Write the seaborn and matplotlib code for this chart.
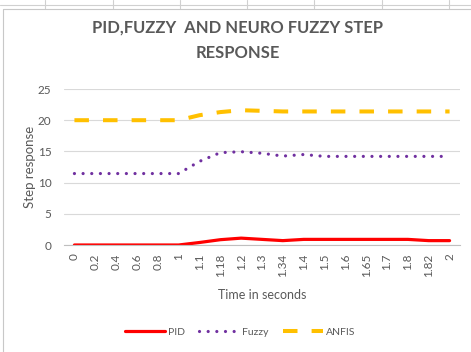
import matplotlib
matplotlib.use("Agg")
import matplotlib.pyplot as plt
import seaborn as sns
import pandas as pd
from matplotlib.lines import Line2D

time_labels = ["0", "0.2", "0.4", "0.6", "0.8", "1", "1.1", "1.18", "1.2", "1.3",
               "1.34", "1.4", "1.5", "1.6", "1.65", "1.7", "1.8", "1.82", "2"]
pid = [0, 0, 0, 0, 0, 0, 0.4, 0.85, 1.1, 0.9, 0.7, 0.9, 0.9, 0.9, 0.9, 0.9, 0.9, 0.7, 0.7]
fuzzy = [11.45, 11.45, 11.45, 11.45, 11.45, 11.45, 13.4, 14.8, 14.95, 14.7, 14.25, 14.5,
         14.2, 14.2, 14.2, 14.2, 14.2, 14.2, 14.2]
anfis = [20, 20, 20, 20, 20, 20, 20.8, 21.3, 21.6, 21.5, 21.4, 21.4, 21.4, 21.4, 21.4,
         21.4, 21.4, 21.4, 21.4]
series_names = ["PID", "Fuzzy", "ANFIS"]
y_ticks = [0, 5, 10, 15, 20, 25]
title_lines = ["PID,FUZZY  AND NEURO FUZZY STEP", "RESPONSE"]

sns.set_theme(style="white")
plt.rcParams["font.family"] = ["Lato", "DejaVu Sans"]

grey = "#595959"
fig = plt.figure(figsize=(4.71, 3.52), dpi=100)
fig.patch.set_facecolor("white")

# Excel sheet background lines above the chart
for xp in [45, 113, 180, 247, 314, 382, 449]:
    fig.add_artist(Line2D([xp / 471, xp / 471], [1, 1 - 9 / 352], color="#D0D0D0", lw=0.8))
fig.add_artist(Line2D([0, 1], [1 - 5 / 352, 1 - 5 / 352], color="#D0D0D0", lw=0.8))
# chart border
fig.add_artist(Line2D([3 / 471, 3 / 471], [0, 1 - 9 / 352], color="#C8C8C8", lw=0.8))
fig.add_artist(Line2D([3 / 471, 1], [1 - 9 / 352, 1 - 9 / 352], color="#C8C8C8", lw=0.8))

ax = fig.add_axes([64 / 471, 1 - 245 / 352, (460 - 64) / 471, (245 - 89) / 352])

df = pd.DataFrame({"Time": time_labels, "PID": pid, "Fuzzy": fuzzy, "ANFIS": anfis})

sns.lineplot(data=df, x="Time", y="PID", ax=ax, color="#FF0000", lw=2.3,
             solid_capstyle="round", label="PID", sort=False)
sns.lineplot(data=df, x="Time", y="Fuzzy", ax=ax, color="#7030A0", lw=2.3,
             dashes=(0.01, 2.7), dash_capstyle="round", label="Fuzzy", sort=False)
sns.lineplot(data=df, x="Time", y="ANFIS", ax=ax, color="#FFC000", lw=2.9,
             dashes=(3.6, 3.5), dash_capstyle="butt", label="ANFIS", sort=False)
lines = ax.get_lines()
lines[1].set_dashes((0.01, 2.7))
lines[1].set_dash_capstyle("round")
lines[2].set_dashes((3.6, 3.5))

ax.set_xlim(-0.5, len(time_labels) - 0.5)
ax.set_ylim(0, 25)
ax.set_yticks(y_ticks)
ax.yaxis.grid(True, color="#D9D9D9", lw=0.8)
ax.set_axisbelow(True)
for s in ["top", "right", "left"]:
    ax.spines[s].set_visible(False)
ax.spines["bottom"].set_color("#BFBFBF")
ax.spines["bottom"].set_linewidth(0.8)
ax.tick_params(axis="x", rotation=90, labelsize=8.5, colors=grey, length=0, pad=6)
ax.tick_params(axis="y", labelsize=8.5, colors=grey, length=0, pad=9)
ax.set_xlabel("Time in seconds", fontsize=9, color=grey, labelpad=9)
ax.set_ylabel("Step response", fontsize=9.5, color=grey, labelpad=1)

fig.text(238 / 471, 1 - 28 / 352, title_lines[0], ha="center", va="center",
         fontsize=11.9, fontweight="bold", color=grey)
fig.text(238 / 471, 1 - 53 / 352, title_lines[1], ha="center", va="center",
         fontsize=11.9, fontweight="bold", color=grey)

ax.get_legend().remove()
fig.legend(handles=lines, labels=series_names, loc="center",
           bbox_to_anchor=(240 / 471, 1 - 332 / 352), ncol=3, frameon=False,
           fontsize=7.5, labelcolor=grey, handlelength=3.8, handletextpad=0.3,
           columnspacing=1.4)

fig.savefig("out.png", dpi=100, facecolor="white")
